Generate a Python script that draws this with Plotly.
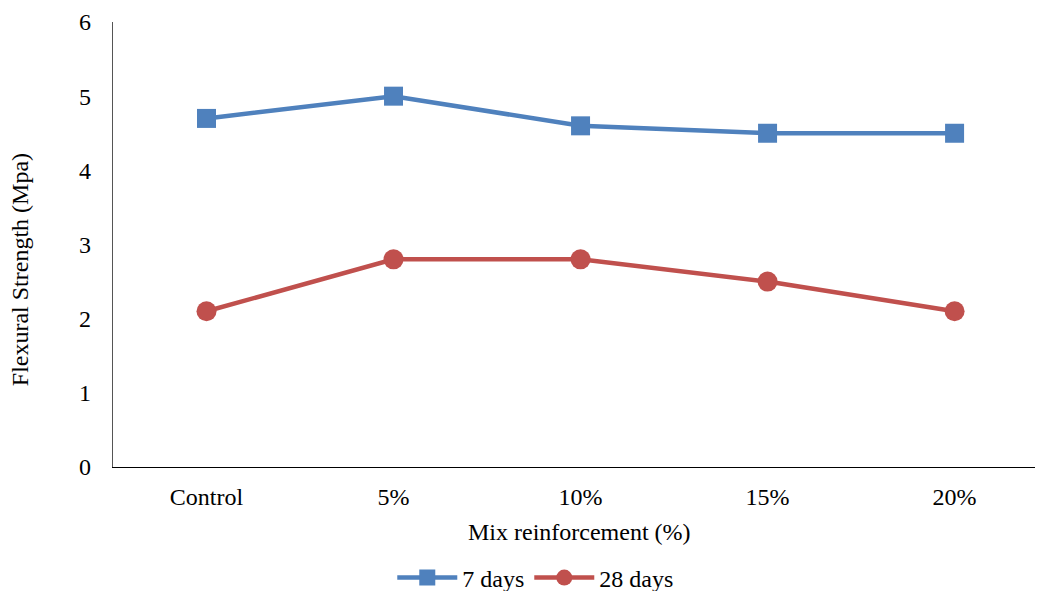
import plotly.graph_objects as go

categories = ["Control", "5%", "10%", "15%", "20%"]
days7 = [4.7, 5.0, 4.6, 4.5, 4.5]
days28 = [2.1, 2.8, 2.8, 2.5, 2.1]
y_ticks = [0, 1, 2, 3, 4, 5, 6]

font_family = "Liberation Serif"
fs = 24

fig = go.Figure()
fig.add_trace(go.Scatter(
    x=categories, y=days7, name="7 days", mode="lines+markers",
    line=dict(color="#4F81BD", width=4.5),
    marker=dict(symbol="square", size=19, color="#4F81BD"),
))
fig.add_trace(go.Scatter(
    x=categories, y=days28, name="28 days", mode="lines+markers",
    line=dict(color="#C0504D", width=4.5),
    marker=dict(symbol="circle", size=20, color="#C0504D"),
))

fig.update_layout(
    width=1037, height=591,
    margin=dict(l=113, r=2, t=22, b=124),
    paper_bgcolor="white", plot_bgcolor="white",
    font=dict(family=font_family, size=fs, color="black"),
    showlegend=True,
    legend=dict(
        orientation="h", x=0.458, xanchor="center",
        yref="container", y=0.022, yanchor="middle",
        font=dict(size=fs, family=font_family), itemwidth=60,
    ),
    xaxis=dict(
        type="category", range=[-0.5, 4.43],
        showline=True, linecolor="black", linewidth=1.3,
        showgrid=False, zeroline=False, ticks="",
        tickfont=dict(size=fs, family=font_family), ticklabelstandoff=8,
    ),
    yaxis=dict(
        range=[0, 6], tickvals=y_ticks,
        showline=True, linecolor="#555555", linewidth=1.3,
        showgrid=False, zeroline=False, ticks="",
        tickfont=dict(size=fs, family=font_family), ticklabelstandoff=16,
    ),
)

# Axis titles placed as annotations for precise positioning
fig.add_annotation(
    text="Mix reinforcement (%)", xref="paper", yref="paper",
    x=0.5065, y=-0.146, xanchor="center", yanchor="middle",
    showarrow=False, font=dict(size=fs, family=font_family, color="black"),
)
fig.add_annotation(
    text="Flexural Strength (Mpa)", xref="paper", yref="paper",
    x=-0.1005, y=0.443, xanchor="center", yanchor="middle", textangle=-90,
    showarrow=False, font=dict(size=fs, family=font_family, color="black"),
)

fig.write_html("out.html")
